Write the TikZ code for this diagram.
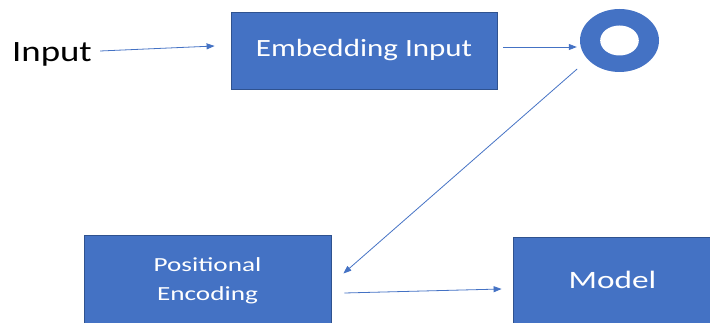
\documentclass[tikz,border=0pt]{standalone}
\usepackage{fontspec}
\setmainfont{Carlito}
\usepackage{xcolor}
\usetikzlibrary{shapes.geometric,arrows.meta}
\definecolor{boxblue}{HTML}{4472C4}
\definecolor{edgeblue}{HTML}{2F528F}
\newcommand{\wide}[2]{\scalebox{#1}[1]{#2}}
\tikzset{
  block/.style={draw=edgeblue, line width=0.8pt, fill=boxblue, text=white, inner sep=0pt},
  link/.style={draw=boxblue, line width=0.8pt, -{Triangle[length=8pt,width=6pt]}}
}

\begin{document}
\begin{tikzpicture}[x=1pt,y=-1pt]
   % \draw[step=10pt,gray,very thin] (0,0) grid (710,323);
   \useasboundingbox (0,0) rectangle (710,323);
   \node[inner sep=0pt] (input) at (52,54) {\wide{1.25}{\fontsize{29.5}{35}\selectfont Input}};
   \node[block, minimum width=266pt, minimum height=77pt] (embed) at (364,50.5)
      {\raisebox{3pt}{\wide{1.25}{\fontsize{24.8}{30}\selectfont Embedding Input}}};
   \node[ellipse, fill=boxblue, minimum width=79pt, minimum height=63pt, inner sep=0pt] (ring) at (619.5,40.5) {};
   \node[ellipse, fill=white, minimum width=38.6pt, minimum height=30pt, inner sep=0pt] (hole) at (ring.center) {};
   \node[block, minimum width=247pt, minimum height=90pt] (posenc) at (207.5,280)
      {\raisebox{4pt}{\wide{1.36}{\fontsize{20}{29}\selectfont\begin{tabular}{@{}c@{}}Positional\\Encoding\end{tabular}}}};
   \node[block, minimum width=199pt, minimum height=88pt] (model) at (612.5,281)
      {\raisebox{3pt}{\wide{1.33}{\fontsize{25}{30}\selectfont Model}}};
 % arrows
   \draw[link] ([shift={(8pt,3pt)}]input.east) -- ([shift={(-16pt,4.5pt)}]embed.west);
   \draw[link] ([shift={(6pt,3.5pt)}]embed.east) -- ([shift={(-3pt,-6.5pt)}]ring.west);
   \draw[link] ([shift={(-12pt,-8pt)}]ring.214) -- ([shift={(12pt,6.5pt)}]posenc.east);
   \draw[link] ([shift={(13pt,-13pt)}]posenc.east) -- ([shift={(-11pt,-8pt)}]model.west);
\end{tikzpicture}
\end{document}
